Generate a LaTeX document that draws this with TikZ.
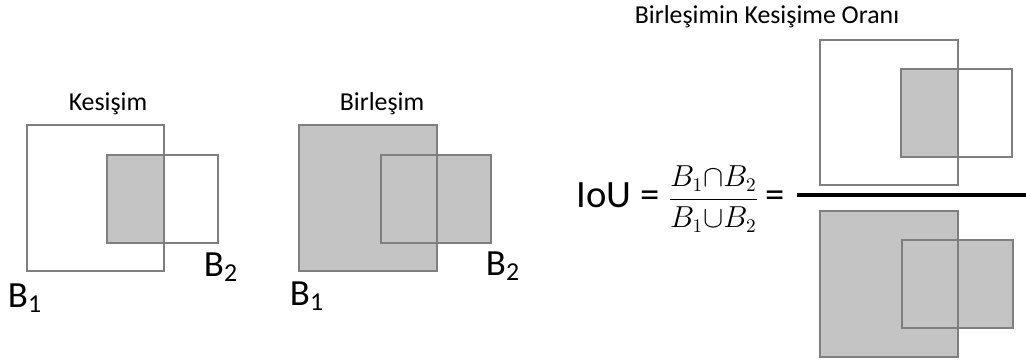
\documentclass[tikz,border=0pt]{standalone}
\usepackage{amsmath}
\usepackage{fontspec}
\setmainfont{Carlito}
\definecolor{BoxGray}{HTML}{C4C4C4}
\definecolor{EdgeGray}{HTML}{7F7F7F}
\usetikzlibrary{positioning}

\tikzset{
  box/.style={draw=EdgeGray, line width=0.6pt},
  shade/.style={fill=BoxGray},
  caption/.style={font=\fontsize{14.7}{17}\selectfont},
  boxlabel/.style={font=\fontsize{21}{24}\selectfont, inner sep=0pt}
}

\begin{document}
\begin{tikzpicture}[x=0.02cm, y=-0.02cm]
  \useasboundingbox (0,0) rectangle (1026,360);
  % --- Panel 1: Kesisim ---
  \begin{scope}
    \fill[shade] (107,155) rectangle (164,243);
    \draw[box] (27,125) rectangle (164,271);
    \draw[box] (107,155) rectangle (218,243);
    \node[caption] (kes) at (108,104) {Kesişim};
    \node[boxlabel] (kesB1) at (25,298) {B\textsubscript{1}};
    \node[boxlabel] (kesB2) at (221,267) {B\textsubscript{2}};
  \end{scope}
  % --- Panel 2: Birlesim ---
  \begin{scope}
    \fill[shade] (299,125) rectangle (437,271);
    \fill[shade] (381,155) rectangle (491,243);
    \draw[box] (299,125) rectangle (437,271);
    \draw[box] (381,155) rectangle (491,243);
    \node[caption] (bir) at (382,104) {Birleşim};
    \node[boxlabel] (birB1) at (307,296) {B\textsubscript{1}};
    \node[boxlabel] (birB2) at (503,266) {B\textsubscript{2}};
  \end{scope}
  % --- Panel 3: oran ---
  \begin{scope}
    \node[caption] (oran) at (767,17) {Birleşimin Kesişime Oranı};
    \node[anchor=base west, inner sep=0pt, font=\fontsize{22}{26}\selectfont]
      (iou) at (576,207) {IoU = {\fontsize{16}{19}\selectfont$\displaystyle\frac{B_1{\cap}B_2}{B_1{\cup}B_2}$}\,=};
    % numerator
    \fill[shade] (901,69) rectangle (958,157);
    \draw[box] (820,40) rectangle (958,185);
    \draw[box] (901,69) rectangle (1012,157);
    % fraction bar
    \coordinate (barL) at (797,195);
    \coordinate (barR) at (1026,195);
    \draw[line width=1.8pt] (barL) -- (barR);
    % denominator
    \fill[shade] (820,211) rectangle (958,357);
    \fill[shade] (902,240) rectangle (1013,328);
    \draw[box] (820,211) rectangle (958,357);
    \draw[box] (902,240) rectangle (1013,328);
  \end{scope}
\end{tikzpicture}
\end{document}
